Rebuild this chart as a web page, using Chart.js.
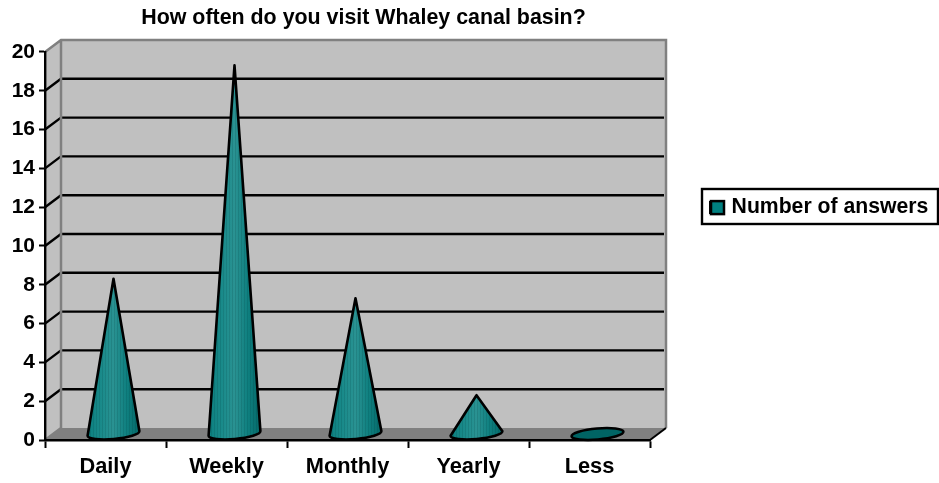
<!DOCTYPE html>
<html><head><meta charset="utf-8">
<style>html,body{margin:0;padding:0;background:#fff}#w{width:939px;height:483px}</style>
<script src="https://cdn.jsdelivr.net/npm/chart.js@4/dist/chart.umd.min.js"></script>
</head><body><div id="w"><canvas id="c"></canvas></div>
<script>
const categories = ['Daily','Weekly','Monthly','Yearly','Less'];
const answers = [8,19,7,2,0];
const seriesName = 'Number of answers';
const titleText = 'How often do you visit Whaley canal basin?';
const yMax = 20, yStep = 2;

const DX = 16, DY = 12;
const FONT = 'Liberation Sans, Arial, sans-serif';

const frame = {
  id:'frame',
  afterLayout(chart){
    const a = chart.chartArea;
    chart.titleBlock.left = a.left + DX;
    chart.titleBlock.right = a.right + DX;
    const l = chart.legend;
    const w = l.width, h = l.height;
    l.left = 702; l.top = 189; l.right = l.left + w; l.bottom = l.top + h;
  },
  beforeDraw(chart){
    const {ctx, chartArea:a, scales:{y}} = chart;
    ctx.save();
    const yTop = y.getPixelForValue(yMax), y0 = y.getPixelForValue(0);
    ctx.fillStyle = '#c0c0c0';
    ctx.beginPath();
    ctx.moveTo(a.left,y0); ctx.lineTo(a.left,yTop); ctx.lineTo(a.left+DX,yTop-DY); ctx.lineTo(a.left+DX,y0-DY); ctx.closePath(); ctx.fill();
    ctx.fillRect(a.left+DX,yTop-DY,a.right-a.left,y0-yTop);
    ctx.fillStyle = '#808080';
    ctx.beginPath();
    ctx.moveTo(a.left,y0); ctx.lineTo(a.right,y0); ctx.lineTo(a.right+DX,y0-DY); ctx.lineTo(a.left+DX,y0-DY); ctx.closePath(); ctx.fill();
    ctx.strokeStyle = '#000'; ctx.lineWidth = 2.4;
    y.ticks.forEach(t=>{
      if (t.value===0 || t.value===yMax) return;
      const p = y.getPixelForValue(t.value);
      ctx.beginPath(); ctx.moveTo(a.left,p); ctx.lineTo(a.left+DX,p-DY); ctx.lineTo(a.right+DX-2,p-DY); ctx.stroke();
    });
    ctx.strokeStyle = '#808080'; ctx.lineWidth = 2.5;
    ctx.beginPath();
    ctx.moveTo(a.left,yTop); ctx.lineTo(a.left+DX,yTop-DY); ctx.lineTo(a.right+DX,yTop-DY); ctx.lineTo(a.right+DX,y0-DY);
    ctx.moveTo(a.left+DX,yTop-DY); ctx.lineTo(a.left+DX,y0-DY); ctx.lineTo(a.left,y0);
    ctx.stroke();
    ctx.strokeStyle = '#000'; ctx.lineWidth = 2;
    ctx.beginPath(); ctx.moveTo(a.right,y0); ctx.lineTo(a.right+DX,y0-DY); ctx.stroke();
    const l = chart.legend;
    ctx.strokeStyle = '#000'; ctx.lineWidth = 2.4;
    ctx.fillStyle = '#fff';
    ctx.fillRect(l.left,189,236,35);
    ctx.strokeRect(l.left,189,236,35);
    ctx.restore();
  },
  beforeDatasetDraw(chart,args){
    const ctx = chart.ctx;
    const tilt = -5*Math.PI/180;
    args.meta.data.forEach(el=>{
      const cx = el.x + DX/2, by = el.base - DY/2, ty = el.y - DY/2;
      const rx = el.width/2, ry = 5.5;
      const ex = rx*Math.cos(tilt), ey = rx*Math.sin(tilt);
      ctx.save();
      ctx.lineJoin = 'round';
      ctx.strokeStyle = '#000'; ctx.lineWidth = 2.6;
      const shape = new Path2D();
      if (by - ty < 1){
        shape.ellipse(cx,by,rx,ry,tilt,0,Math.PI*2);
        ctx.fillStyle = '#006464'; ctx.fill(shape); ctx.stroke(shape);
        ctx.restore(); return;
      }
      shape.moveTo(cx,ty);
      shape.lineTo(cx-ex,by-ey);
      shape.ellipse(cx,by,rx,ry,tilt,Math.PI,0,true);
      shape.closePath();
      const g = ctx.createLinearGradient(cx-rx,0,cx+rx,0);
      g.addColorStop(0,'#0b7f7f');
      g.addColorStop(.3,'#1c8c8c');
      g.addColorStop(.5,'#2a9292');
      g.addColorStop(.75,'#0f8080');
      g.addColorStop(1,'#056868');
      ctx.fillStyle = g; ctx.fill(shape);
      ctx.save(); ctx.clip(shape);
      ctx.strokeStyle = 'rgba(0,50,50,.14)'; ctx.lineWidth = 1;
      for (let x = cx-rx; x < cx+rx; x += 3){
        ctx.beginPath(); ctx.moveTo(Math.round(x)+.5,ty); ctx.lineTo(Math.round(x)+.5,by+ry+2); ctx.stroke();
      }
      ctx.restore();
      ctx.stroke(shape);
      ctx.restore();
    });
    return false;
  },
  afterDraw(chart){
    const ctx = chart.ctx, hit = chart.legend.legendHitBoxes[0], ds = chart.data.datasets[0];
    ctx.save();
    ctx.fillStyle = ds.backgroundColor; ctx.strokeStyle = ds.borderColor; ctx.lineWidth = 2.5;
    const top = hit.top + hit.height/2 - 6.5;
    ctx.fillRect(hit.left+1,top,13,13);
    ctx.strokeRect(hit.left+1,top,13,13);
    ctx.restore();
  }
};

new Chart(document.getElementById('c'),{
  type:'bar',
  data:{labels:categories,datasets:[{label:seriesName,data:answers,backgroundColor:'#008080',borderColor:'#000',borderWidth:2,categoryPercentage:1,barPercentage:.43}]},
  plugins:[frame],
  options:{
    responsive:true,maintainAspectRatio:false,animation:false,
    events:[],
    layout:{autoPadding:false,padding:{left:0,top:0,right:289,bottom:0}},
    plugins:{
      tooltip:{enabled:false},
      title:{display:true,text:titleText,color:'#000',font:{family:FONT,size:21.4,weight:'bold'},padding:{top:5,bottom:21.3}},
      legend:{position:'chartArea',align:'start',labels:{boxWidth:11,boxHeight:11,padding:8,color:'#000',font:{family:FONT,size:21.2,weight:'bold'}}}
    },
    scales:{
      x:{
        afterFit(s){s.height=43;},
        grid:{offset:true,drawOnChartArea:false,drawTicks:true,tickLength:8,tickWidth:2,tickColor:'#000'},
        border:{color:'#000',width:2.4},
        ticks:{color:'#000',maxRotation:0,padding:6,font:{family:FONT,size:21.8,weight:'bold'}}
      },
      y:{
        min:0,max:yMax,
        afterFit(s){s.width=45;},
        grid:{drawOnChartArea:false,drawTicks:true,tickLength:6,tickWidth:2,tickColor:'#000'},
        border:{color:'#000',width:2.4},
        ticks:{stepSize:yStep,color:'#000',padding:4,font:{family:FONT,size:21,weight:'bold'}}
      }
    }
  }
});
</script></body></html>
